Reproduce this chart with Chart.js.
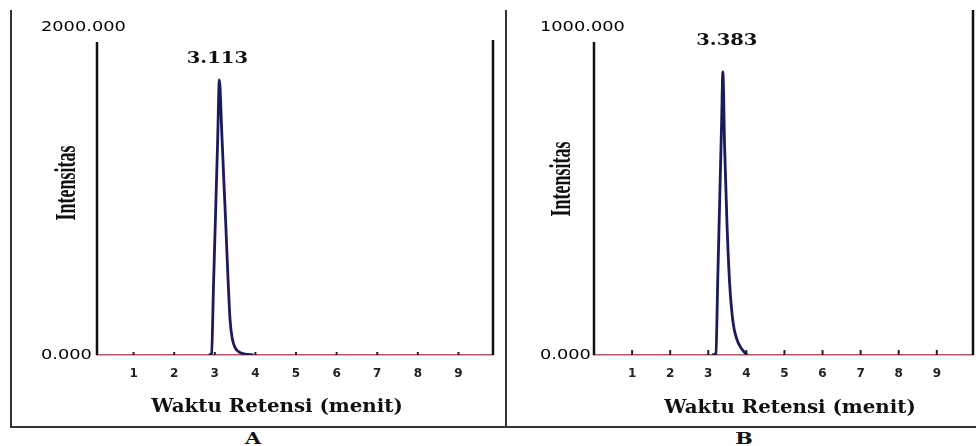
<!DOCTYPE html>
<html>
<head>
<meta charset="utf-8">
<script src="https://cdn.jsdelivr.net/npm/chart.js@4.4.0/dist/chart.umd.min.js"></script>
<style>
  body { margin: 0; background: #fff; width: 976px; height: 446px; position: relative; overflow: hidden; }
  .frame { position: absolute; left: 10px; top: 10px; width: 966px; height: 416px;
           border-left: 2px solid #333; border-bottom: 2px solid #333; box-sizing: content-box; }
  .divider { position: absolute; left: 505px; top: 10px; width: 2px; height: 418px; background: #333; }
  .panel { position: absolute; top: 10px; }
  .tag { position: absolute; top: 429px; font: bold 16px "DejaVu Serif"; color: #111;
         transform: scaleX(1.3); width: 20px; text-align: center; }
</style>
</head>
<body>
<div class="frame"></div>
<canvas id="chartA" class="panel" style="left:10px" width="495" height="417"></canvas>
<canvas id="chartB" class="panel" style="left:505px" width="471" height="417"></canvas>
<div class="divider"></div>
<div class="tag" style="left:243px">A</div>
<div class="tag" style="left:734px">B</div>
<script>
// tick labels
const xTicks = [1, 2, 3, 4, 5, 6, 7, 8, 9];
const yTicksA = [0, 2000];
const yTicksB = [0, 1000];

// chromatogram A (retention time in minutes, intensity)
const peakA = 3.113;
const timeA = [2.85, 2.92, 2.97, 3.02, 3.07, 3.113, 3.17, 3.22, 3.27, 3.32, 3.376, 3.43, 3.5, 3.6, 3.75, 3.95];
const intensA = [0, 8, 435, 869, 1304, 1677, 1370, 1080, 800, 500, 215, 100, 45, 18, 6, 0];

// chromatogram B
const peakB = 3.383;
const timeB = [3.1, 3.2, 3.25, 3.3, 3.35, 3.383, 3.43, 3.49, 3.56, 3.65, 3.75, 3.88, 4.02];
const intensB = [0, 5, 236, 472, 707, 863, 630, 405, 220, 100, 48, 18, 0];

function stretchText(ctx, text, x, y, sx, align) {
  ctx.save();
  ctx.translate(x, y);
  ctx.scale(sx, 1);
  ctx.textAlign = align;
  ctx.fillText(text, 0, 0);
  ctx.restore();
}

// frame lines, small tick marks and all the labels
const decor = {
  id: 'decor',
  afterDraw(chart, args, o) {
    const { ctx, chartArea: a, scales: { x, y } } = chart;
    ctx.save();
    ctx.strokeStyle = '#111';
    ctx.lineWidth = 2.5;
    ctx.beginPath();
    ctx.moveTo(a.left, a.top + o.leftTop); ctx.lineTo(a.left, a.bottom);
    ctx.moveTo(a.right, a.top + o.rightTop); ctx.lineTo(a.right, a.bottom);
    ctx.stroke();

    ctx.lineWidth = 2;
    ctx.strokeStyle = '#222';
    xTicks.forEach(t => {
      const px = x.getPixelForValue(t);
      ctx.beginPath();
      ctx.moveTo(px, a.bottom);
      ctx.lineTo(px, a.bottom - o.tickLen);
      ctx.stroke();
    });

    ctx.fillStyle = '#000';
    ctx.textBaseline = 'middle';
    ctx.font = '14px "DejaVu Sans"';
    o.yTicks.forEach(v => stretchText(ctx, v.toFixed(3), o.yLabelX, y.getPixelForValue(v), 1.27, 'left'));

    ctx.fillStyle = '#111';
    ctx.font = 'bold 17px "DejaVu Serif"';
    stretchText(ctx, o.peak.toFixed(3), x.getPixelForValue(o.peak) + o.peakDx,
      y.getPixelForValue(o.peakTop) + o.peakDy, 1.15, 'center');

    ctx.font = 'bold 18px "DejaVu Serif"';
    stretchText(ctx, 'Waktu Retensi (menit)', o.titleX, o.titleY, 1.1, 'center');

    ctx.save();
    ctx.translate(o.yTitleX, o.yTitleY);
    ctx.rotate(-Math.PI / 2);
    ctx.scale(1, 1.6);
    ctx.font = 'bold 18px "Liberation Serif"';
    ctx.textAlign = 'center';
    ctx.fillText('Intensitas', 0, 0);
    ctx.restore();
    ctx.restore();
  }
};

function buildChart(id, time, intens, yTicks, opts) {
  return new Chart(document.getElementById(id), {
    type: 'line',
    data: {
      datasets: [{
        data: time.map((t, i) => ({ x: t, y: intens[i] })),
        borderColor: '#1a1a5c',
        borderWidth: 2.8,
        pointRadius: 0,
        cubicInterpolationMode: 'monotone'
      }]
    },
    options: {
      responsive: false,
      animation: false,
      layout: { padding: { top: 17, right: opts.padRight, left: 0, bottom: 0 } },
      plugins: {
        legend: { display: false },
        tooltip: { enabled: false },
        decor: Object.assign({ yTicks: yTicks, peakTop: Math.max(...intens) }, opts)
      },
      scales: {
        x: {
          type: 'linear',
          min: opts.xMin,
          max: opts.xMax,
          afterBuildTicks: s => { s.ticks = xTicks.map(v => ({ value: v })); },
          afterFit: s => { s.height = 72; },
          grid: { display: false, drawTicks: false },
          border: { display: true, color: '#c8506a', width: 1.5 },
          ticks: { font: { family: 'DejaVu Sans', size: 12, weight: 'bold' }, color: '#222', padding: 12, maxRotation: 0, autoSkip: false }
        },
        y: {
          min: 0,
          max: yTicks[yTicks.length - 1],
          afterFit: s => { s.width = opts.yWidth; },
          grid: { display: false },
          border: { display: false },
          ticks: { display: false }
        }
      }
    },
    plugins: [decor]
  });
}

buildChart('chartA', timeA, intensA, yTicksA, {
  xMin: 0.1, xMax: 9.85, yWidth: 87, padRight: 12,
  leftTop: 15, rightTop: 13, tickLen: 3, yLabelX: 31,
  peak: peakA, peakDx: -2, peakDy: -21,
  titleX: 267, titleY: 397, yTitleX: 58, yTitleY: 173
});

buildChart('chartB', timeB, intensB, yTicksB, {
  xMin: 0, xMax: 9.95, yWidth: 89, padRight: 3,
  leftTop: 15, rightTop: -17, tickLen: 5, yLabelX: 35,
  peak: peakB, peakDx: 4, peakDy: -31,
  titleX: 285, titleY: 398, yTitleX: 58, yTitleY: 169
});
</script>
</body>
</html>
